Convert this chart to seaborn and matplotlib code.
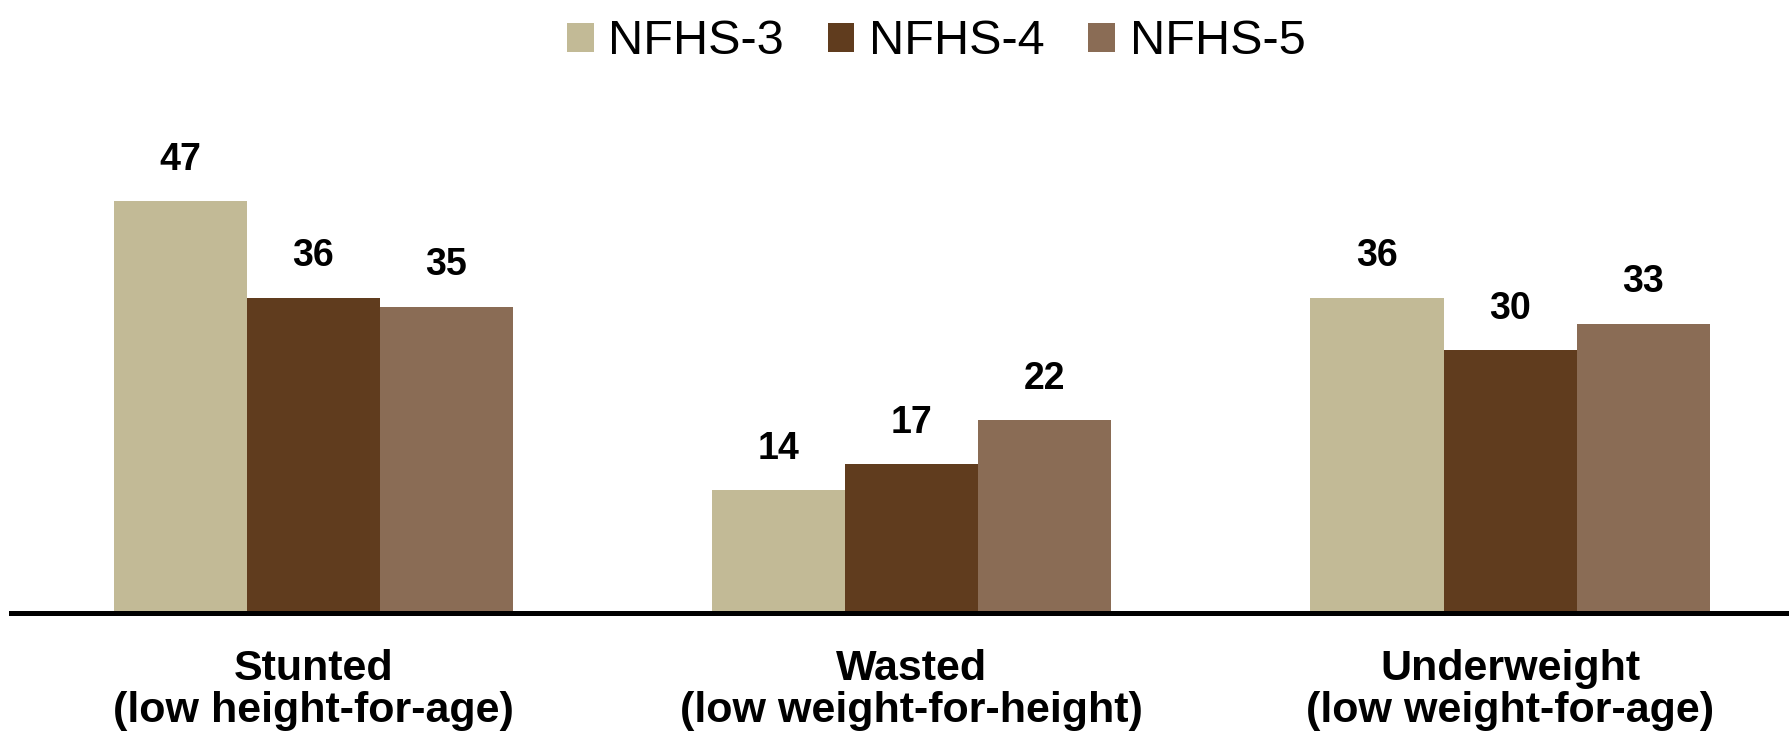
import seaborn as sns
import matplotlib.pyplot as plt
import pandas as pd

categories = ["Stunted\n(low height-for-age)",
              "Wasted\n(low weight-for-height)",
              "Underweight\n(low weight-for-age)"]
rounds = ["NFHS-3", "NFHS-4", "NFHS-5"]
nfhs3 = [47, 14, 36]
nfhs4 = [36, 17, 30]
nfhs5 = [35, 22, 33]
colors = ["#C2BA96", "#603C1E", "#8A6C55"]

df = pd.DataFrame({
    "category": categories * 3,
    "round": [r for r in rounds for _ in categories],
    "value": nfhs3 + nfhs4 + nfhs5,
})

sns.set_style("white")
plt.rcParams['font.family'] = ['Liberation Sans', 'DejaVu Sans']
plt.rcParams['text.color'] = 'black'
plt.rcParams['xtick.color'] = 'black'

fig = plt.figure(figsize=(17.9, 7.36), dpi=100)
ax = fig.add_axes([0.006, 0.167, 0.994, 0.595])

sns.barplot(data=df, x="category", y="value", hue="round",
            palette=colors, width=0.667, saturation=1, linewidth=0, ax=ax)

for c in ax.containers:
    ax.bar_label(c, fmt="%d", padding=17, fontsize=27, fontweight="bold",
                 color="black")

ax.set_ylim(0, 50)
ax.set_xlim(-0.506, 2.468)
ax.set_xlabel("")
ax.set_ylabel("")
ax.set_yticks([])
for s in ["top", "right", "left"]:
    ax.spines[s].set_visible(False)
ax.spines["bottom"].set_linewidth(3.6)
ax.spines["bottom"].set_color("black")
ax.tick_params(axis="x", length=0, pad=26, labelsize=31, labelcolor="black")
for t in ax.get_xticklabels():
    t.set_fontweight("bold")
    t.set_linespacing(1.05)

handles, labels = ax.get_legend_handles_labels()
ax.get_legend().remove()
fig.legend(handles, labels, loc="center", bbox_to_anchor=(0.523, 0.943),
           ncol=3, frameon=False, fontsize=35, handlelength=0.55,
           handleheight=0.55, handletextpad=0.3, columnspacing=0.9,
           labelcolor="black")

fig.savefig("out.png", dpi=100)
